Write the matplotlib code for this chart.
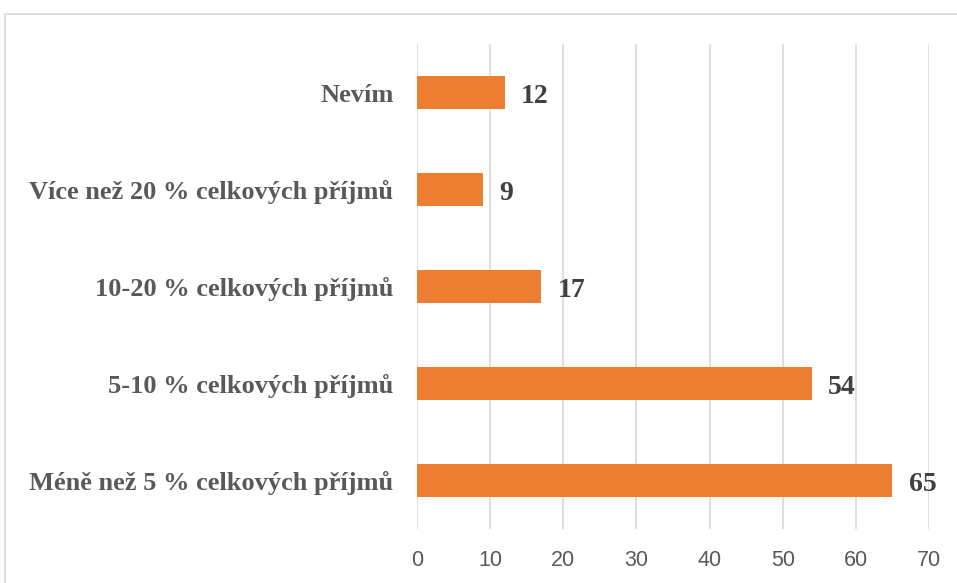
import matplotlib.pyplot as plt
from matplotlib.patches import Rectangle

categories = ['Méně než 5 % celkových příjmů',
              '5-10 % celkových příjmů',
              '10-20 % celkových příjmů',
              'Více než 20 % celkových příjmů',
              'Nevím']
values = [65, 54, 17, 9, 12]
xticks = [0, 10, 20, 30, 40, 50, 60, 70]

W, H = 957, 583
fig = plt.figure(figsize=(W / 100, H / 100), dpi=100)
ax = fig.add_axes([417 / W, 1 - 529 / H, (929 - 417) / W, (529 - 44) / H])

# chart frame (cropped on right and bottom)
fig.patches.append(Rectangle((5 / W, -0.1), 1.2, 1 - 14 / H + 0.1,
                             transform=fig.transFigure, fill=False,
                             edgecolor='#d9d9d9', linewidth=1.2))

pos = range(len(categories))
ax.barh(pos, values, height=0.35, color='#ED7D31', zorder=3)

for y, v in zip(pos, values):
    ax.text(v + 2.2, y - 0.04, str(v), va='center', ha='left',
            family='Liberation Serif', fontweight='bold',
            fontsize=20, color='#404040')

ax.set_xlim(0, 70)
ax.set_ylim(-0.5, 4.5)
ax.set_xticks(xticks)
ax.set_yticks(list(pos))
ax.set_yticklabels(categories, family='Liberation Serif', fontweight='bold',
                   fontsize=19, color='#595959')
for lbl in ax.get_xticklabels():
    lbl.set_family('Liberation Sans')
    lbl.set_fontsize(15.5)
    lbl.set_color('#595959')

ax.grid(axis='x', color='#d9d9d9', linewidth=1.2, zorder=0)
for s in ax.spines.values():
    s.set_visible(False)
ax.tick_params(axis='both', length=0)
ax.tick_params(axis='x', pad=15)
ax.tick_params(axis='y', pad=17)

fig.savefig('out.png', dpi=100)
